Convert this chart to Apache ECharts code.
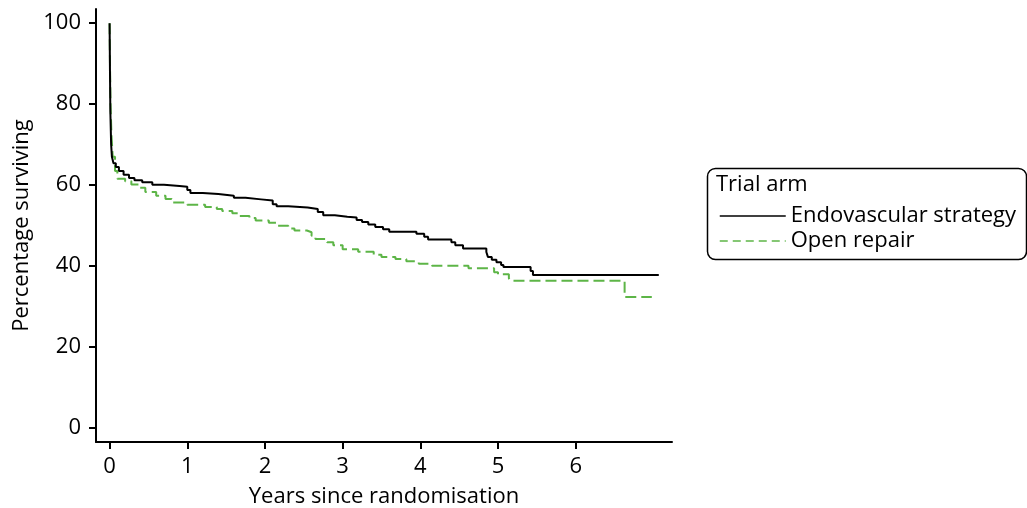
<!DOCTYPE html>
<html>
<head>
<meta charset="utf-8">
<script src="https://cdn.jsdelivr.net/npm/echarts@6/dist/echarts.min.js"></script>
<style>
  html, body { margin: 0; padding: 0; background: #fff; }
  #chart { width: 1027px; height: 508px; }
</style>
</head>
<body>
<div id="chart"></div>
<script>
// values
const endoYears = [0, 0.005, 0.01, 0.02, 0.03, 0.05, 0.08, 0.12, 0.18, 0.25, 0.32, 0.42, 0.55, 0.7, 0.9, 1.0, 1.04, 1.2, 1.4, 1.6, 1.75, 1.95, 2.1, 2.15, 2.3, 2.55, 2.68, 2.75, 2.9, 3.06, 3.18, 3.25, 3.33, 3.42, 3.52, 3.6, 3.95, 4.05, 4.1, 4.4, 4.45, 4.55, 4.85, 4.87, 4.92, 4.98, 5.04, 5.07, 5.42, 5.45, 7.07];
const endoSurvival = [100, 88, 78, 70, 67, 65.4, 64.5, 63.5, 62.6, 61.8, 61.2, 60.7, 60.1, 59.8, 59.6, 58.8, 58.1, 57.8, 57.4, 56.9, 56.5, 56.2, 55.3, 54.8, 54.5, 54.1, 53.4, 52.6, 52.2, 52.0, 51.4, 50.9, 50.3, 49.7, 49.1, 48.5, 48.0, 47.3, 46.6, 45.9, 45.2, 44.4, 43.5, 42.3, 41.6, 41.0, 40.3, 39.8, 38.8, 37.8, 37.8];

const openYears = [0, 0.005, 0.012, 0.025, 0.04, 0.07, 0.1, 0.2, 0.28, 0.38, 0.46, 0.6, 0.72, 0.8, 1.0, 1.23, 1.38, 1.45, 1.58, 1.66, 1.8, 1.88, 2.05, 2.15, 2.3, 2.38, 2.54, 2.6, 2.65, 2.8, 2.88, 3.0, 3.2, 3.4, 3.5, 3.68, 3.82, 3.98, 4.15, 4.62, 4.95, 5.0, 5.14, 5.16, 6.63, 6.98];
const openSurvival = [100, 90, 80, 72, 67, 63.5, 61.6, 61.0, 60.2, 59.4, 58.3, 57.4, 56.6, 55.7, 55.2, 54.6, 54.1, 53.6, 53.1, 52.4, 51.9, 51.3, 50.7, 50.0, 49.3, 48.8, 48.4, 47.5, 46.7, 45.9, 45.2, 44.2, 43.6, 42.8, 42.3, 41.8, 41.2, 40.6, 40.1, 39.5, 38.5, 38.0, 37.0, 36.4, 32.4, 32.4];

const xTicks = [0, 1, 2, 3, 4, 5, 6];
const yTicks = [0, 20, 40, 60, 80, 100];

const seriesNames = ['Endovascular strategy', 'Open repair'];

const chart = echarts.init(document.getElementById('chart'));
const font = '"Open Sans", "Noto Sans", sans-serif';

const toPairs = (xs, ys) => xs.map((x, i) => [x, ys[i]]);

chart.setOption({
  animation: false,
  textStyle: { fontFamily: font },
  grid: { left: 96, right: 355, top: 9, bottom: 66, outerBoundsMode: 'none' },
  xAxis: {
    type: 'value',
    min: -0.175,
    max: 7.24,
    name: 'Years since randomisation',
    nameLocation: 'middle',
    nameGap: 44,
    nameTextStyle: { fontSize: 22, color: '#000', fontFamily: font },
    axisLine: { onZero: false, lineStyle: { color: '#000', width: 2 } },
    axisTick: { customValues: xTicks, length: 7, lineStyle: { color: '#000', width: 2 } },
    axisLabel: { customValues: xTicks, fontSize: 22, color: '#000', margin: 14 },
    splitLine: { show: false }
  },
  yAxis: {
    type: 'value',
    min: -3.4,
    max: 103.5,
    name: 'Percentage surviving',
    nameLocation: 'middle',
    nameGap: 63,
    nameTextStyle: { fontSize: 22, color: '#000', fontFamily: font },
    axisLine: { show: true, onZero: false, lineStyle: { color: '#000', width: 2 } },
    axisTick: { show: true, customValues: yTicks, length: 7, lineStyle: { color: '#000', width: 2 } },
    axisLabel: { customValues: yTicks, fontSize: 22, color: '#000', margin: 15 },
    splitLine: { show: false }
  },
  legend: {
    orient: 'vertical',
    left: 714,
    top: 200,
    itemWidth: 66,
    itemHeight: 14,
    itemGap: 3,
    itemStyle: { opacity: 0 },
    textStyle: { fontSize: 22, color: '#000', fontFamily: font },
    data: [
      { name: seriesNames[0], lineStyle: { width: 1.5 } },
      { name: seriesNames[1], lineStyle: { width: 1.5, type: [8, 5] } }
    ]
  },
  graphic: [
    {
      type: 'rect',
      left: 705,
      top: 166,
      shape: { width: 319, height: 91, r: 8 },
      style: { fill: 'none', stroke: '#000', lineWidth: 1.5 },
      silent: true
    },
    {
      type: 'text',
      left: 716,
      top: 174,
      style: { text: 'Trial arm', font: '22px ' + font, fill: '#000' }
    }
  ],
  series: [
    {
      name: seriesNames[0],
      type: 'line',
      step: 'end',
      symbol: 'none',
      data: toPairs(endoYears, endoSurvival),
      lineStyle: { color: '#000', width: 2 },
      itemStyle: { color: '#000' },
      z: 3
    },
    {
      name: seriesNames[1],
      type: 'line',
      step: 'end',
      symbol: 'none',
      data: toPairs(openYears, openSurvival),
      lineStyle: { color: '#5db547', width: 2, type: [11, 5] },
      itemStyle: { color: '#5db547' },
      z: 2
    }
  ]
});
</script>
</body>
</html>
